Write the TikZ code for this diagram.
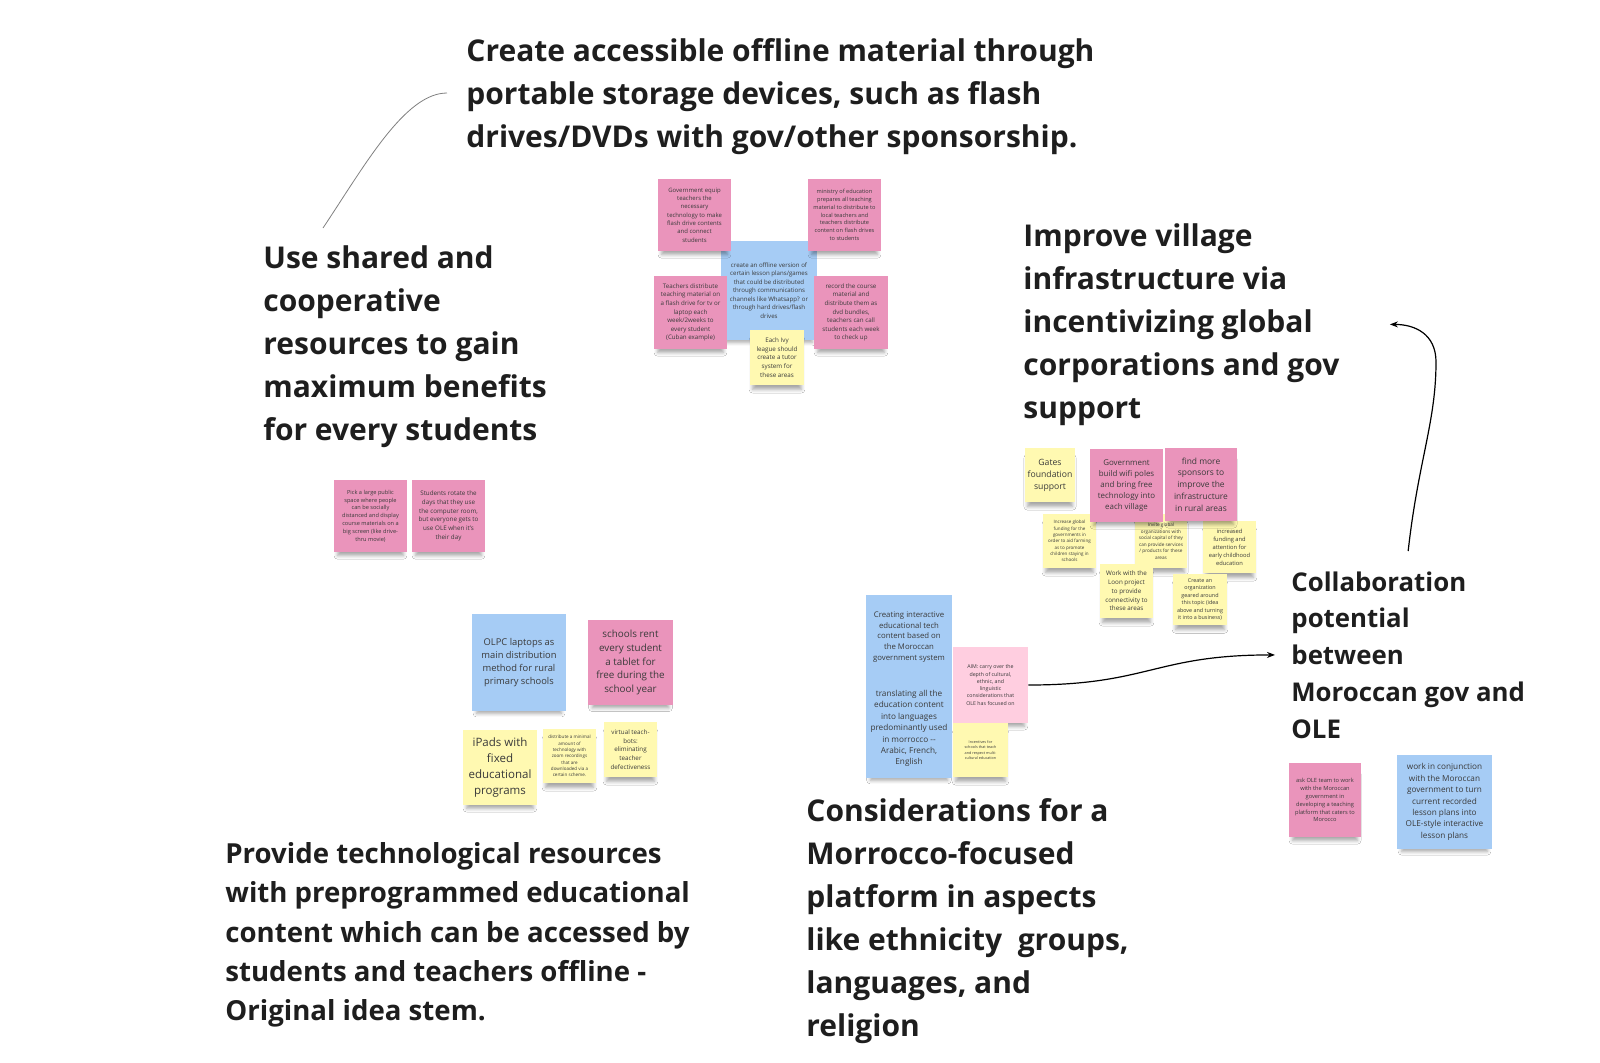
\documentclass[tikz,border=0pt]{standalone}
\usepackage{fontspec}
\setmainfont{Open Sans}
\usetikzlibrary{arrows.meta,shadows.blur}
\definecolor{stickypink}{HTML}{EA94BB}
\definecolor{stickylpink}{HTML}{FFCEE0}
\definecolor{stickyblue}{HTML}{A6CCF5}
\definecolor{stickyyellow}{HTML}{FFF9B1}
\definecolor{stickytext}{HTML}{3A3A3A}
\definecolor{headtext}{HTML}{1E1E1E}
\newcommand{\stickyfont}[1]{\pgfmathsetmacro\stfs{#1*0.36}\pgfmathsetmacro\stbs{#1*0.5}\fontsize{\stfs pt}{\stbs pt}\selectfont}
\tikzset{
  sticky/.style={inner sep=0pt,align=center,text=stickytext,
    blur shadow={shadow xshift=0pt,shadow yshift=-4pt,shadow scale=0.9,shadow opacity=35,shadow blur radius=2pt}},
  sz/.style n args={3}{minimum width=#1*0.5pt,minimum height=#2*0.5pt,font=\stickyfont{#3}},
  pk/.style={sticky,fill=stickypink},
  lpk/.style={sticky,fill=stickylpink},
  bl/.style={sticky,fill=stickyblue},
  yl/.style={sticky,fill=stickyyellow},
  heading/.style={anchor=north west,inner sep=0pt,align=left,text=headtext,
    font=\bfseries\fontsize{15}{21.5}\selectfont},
  link/.style={-{Stealth[length=4pt,width=3pt]},line width=0.6pt,black},
}
\begin{document}
\begin{tikzpicture}[x=0.5pt,y=-0.5pt]
\fill[white] (0,0) rectangle (1600,1062);
\useasboundingbox (0,0) rectangle (1600,1062);

% headings
\node[heading] (create) at (466,38) {Create accessible offline material through\\portable storage devices, such as flash\\drives/DVDs with gov/other sponsorship.};
\node[heading] (useshared) at (263,245) {Use shared and\\cooperative\\resources to gain\\maximum benefits\\for every students};
\node[heading] (improve) at (1023,223) {Improve village\\infrastructure via\\incentivizing global\\corporations and gov\\support};
\node[heading,font=\bfseries\fontsize{12.9}{18.4}\selectfont] (collab) at (1291,571) {Collaboration\\potential\\between\\Moroccan gov and\\OLE};
\node[heading,font=\bfseries\fontsize{13.8}{19.7}\selectfont] (provide) at (225,842) {Provide technological resources\\with preprogrammed educational\\content which can be accessed by\\students and teachers offline -\\Original idea stem.};
\node[heading] (consider) at (806,798) {Considerations for a\\Morrocco-focused\\platform in aspects\\like ethnicity\ \ groups,\\languages, and\\religion};

% offline material cluster
\node[bl,sz={96}{99}{8.5}] (offline) at (769,290.5) {create an offline version of\\certain lesson plans/games\\that could be distributed\\through communications\\channels like Whatsapp? or\\through hard drives/flash\\drives};
\node[pk,sz={73}{72}{8.3}] (goveq) at (694.5,215) {Government equip\\teachers the\\necessary\\technology to make\\flash drive contents\\and connect\\students};
\node[pk,sz={73}{72}{7.8}] (ministry) at (844.5,215) {ministry of education\\prepares all teaching\\material to distribute to\\local teachers and\\teachers distribute\\content on flash drives\\to students};
\node[pk,sz={73}{73}{8.6}] (teachdist) at (690.5,312.5) {Teachers distribute\\teaching material on\\a flash drive for tv or\\laptop each\\week/2weeks to\\every student\\(Cuban example)};
\node[pk,sz={74}{73}{8.6}] (record) at (851,312.5) {record the course\\material and\\distribute them as\\dvd bundles,\\teachers can call\\students each week\\to check up};
\node[yl,sz={54}{55}{8.7}] (ivy) at (777,357.5) {Each Ivy\\league should\\create a tutor\\system for\\these areas};

% shared resources
\node[pk,sz={73}{72}{7.8}] (publicspace) at (370.5,516) {Pick a large public\\space where people\\can be socially\\distanced and display\\course materials on a\\big screen (like drive-\\thru movie)};
\node[pk,sz={73}{72}{8.7}] (rotate) at (448.5,516) {Students rotate the\\days that they use\\the computer room,\\but everyone gets to\\use OLE when it's\\their day};

% technological resources
\node[bl,sz={94}{97}{13}] (olpc) at (519,662.5) {OLPC laptops as\\main distribution\\method for rural\\primary schools};
\node[pk,sz={85}{85}{13.7}] (rent) at (630.5,662.5) {schools rent\\every student\\a tablet for\\free during the\\school year};
\node[yl,sz={74}{75}{16}] (ipads) at (500,767.5) {iPads with\\fixed\\educational\\programs};
\node[yl,sz={53}{54}{6.3}] (minimal) at (569.5,756) {distribute a minimal\\amount of\\technology with\\zoom recordings\\that are\\downloaded via a\\certain scheme.};
\node[yl,sz={53}{55}{8.7}] (teachbots) at (630.5,749.5) {virtual teach-\\bots:\\eliminating\\teacher\\defectiveness};

% morocco-focused platform
\node[bl,sz={86}{84}{10.8}] (interactive) at (909,637) {Creating interactive\\educational tech\\content based on\\the Moroccan\\government system};
\node[bl,sz={86}{99}{11.4}] (translate) at (909,728.5) {translating all the\\education content\\into languages\\predominantly used\\in morrocco -{}-\\Arabic, French,\\English};
\node[lpk,sz={75}{76}{7.3}] (aim) at (990.5,685) {AIM: carry over the\\depth of cultural,\\ethnic, and\\linguistic\\considerations that\\OLE has focused on};
\node[yl,sz={55}{54}{5.2}] (incentives) at (980.5,750) {Incentives for\\schools that teach\\and respect multi-\\cultural education};

% village infrastructure
\node[yl,sz={53}{54}{6.3}] (funding) at (1069.5,541) {Increase global\\funding for the\\governments in\\order to aid farming\\as to promote\\children staying in\\schools};
\node[yl,sz={52}{54}{6.5}] (invite) at (1161,541) {Invite global\\organizations with\\social capital of they\\can provide services\\/ products for these\\areas};
\node[yl,sz={53}{52}{8}] (earlychild) at (1229.5,547) {increased\\funding and\\attention for\\early childhood\\education};
\node[yl,sz={50}{54}{12}] (gates) at (1050,475) {Gates\\foundation\\support};
\node[pk,sz={73}{73}{11}] (wifi) at (1126.5,485.5) {Government\\build wifi poles\\and bring free\\technology into\\each village};
\node[pk,sz={72}{73}{11.7}] (sponsors) at (1201,484.5) {find more\\sponsors to\\improve the\\infrastructure\\in rural areas};
\node[yl,sz={53}{54}{8.7}] (loon) at (1126.5,591) {Work with the\\Loon project\\to provide\\connectivity to\\these areas};
\node[yl,sz={54}{51}{7.5}] (organization) at (1200,599.5) {Create an\\organization\\geared around\\this topic (idea\\above and turning\\it into a business)};

% collaboration
\node[pk,sz={72}{74}{7.9}] (askole) at (1325,800) {ask OLE team to work\\with the Moroccan\\government in\\developing a teaching\\platform that caters to\\Morocco};
\node[bl,sz={95}{94}{11.4}] (conjunction) at (1444.5,802) {work in conjunction\\with the Moroccan\\government to turn\\current recorded\\lesson plans into\\OLE-style interactive\\lesson plans};

% connectors
\coordinate (usetail) at (323,228);
\coordinate (createtip) at (447,93);
\coordinate (rbend) at (1436,362);
\draw[gray,line width=0.4pt] (usetail) .. controls (365,165) and (405,93) .. (createtip);
\draw[link] ([yshift=10pt]collab.north) .. controls +(10,-90) and +(0,60) .. (rbend)
  .. controls +(0,-28) and +(25,0) .. ([xshift=25pt]improve.east);
\draw[link] (aim.east) .. controls +(120,0) and +(-120,0) .. ([xshift=-8pt]collab.west);
\end{tikzpicture}
\end{document}
